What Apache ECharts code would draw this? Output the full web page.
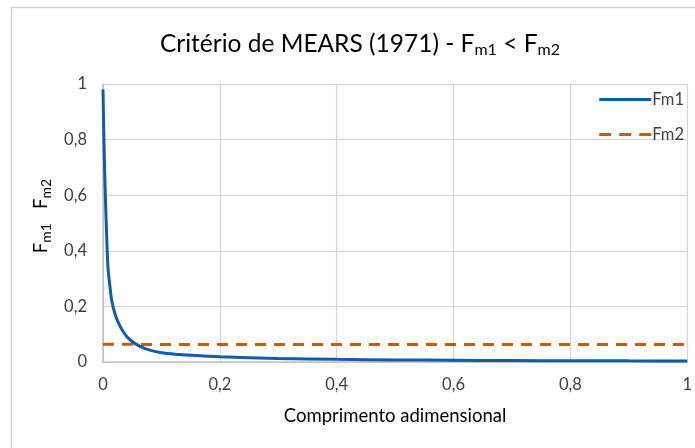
<!DOCTYPE html>
<html>
<head>
<meta charset="utf-8">
<script src="https://cdn.jsdelivr.net/npm/echarts@6/dist/echarts.min.js"></script>
<style>
  * { margin: 0; padding: 0; }
  body { background: #fff; }
</style>
</head>
<body>
<div id="chart" style="width: 695px;height: 448px;"></div>
<script>
  // valores
  const xFm1 = [0, 0.002, 0.004, 0.006, 0.0085, 0.012, 0.015, 0.021, 0.027, 0.035, 0.044, 0.055, 0.072, 0.1, 0.13, 0.16, 0.2, 0.3, 0.4, 0.5, 0.6, 0.7, 0.8, 0.9, 1]
  const fm1 = [0.98, 0.76, 0.60, 0.47, 0.34, 0.27, 0.22, 0.17, 0.138, 0.108, 0.084, 0.066, 0.048, 0.033, 0.027, 0.023, 0.019, 0.013, 0.0095, 0.0075, 0.0062, 0.0053, 0.0046, 0.0041, 0.0037]
  const xFm2 = [0, 0.1, 0.2, 0.3, 0.4, 0.5, 0.6, 0.7, 0.8, 0.9, 1]
  const fm2 = [0.064, 0.063, 0.063, 0.063, 0.063, 0.063, 0.063, 0.063, 0.063, 0.063, 0.063]
  const xTicks = ['0', '0,2', '0,4', '0,6', '0,8', '1']
  const yTicks = ['0', '0,2', '0,4', '0,6', '0,8', '1']

  const font = 'Lato, "Open Sans", sans-serif'

  let chart = echarts.init(document.getElementById('chart'))
  chart.setOption({
    backgroundColor: '#fff',
    animation: false,
    textStyle: {fontFamily: font},
    graphic: [{
      type: 'rect',
      shape: {x: 11.5, y: 7.5, width: 700, height: 460},
      style: {fill: 'none', stroke: '#d0d0d0', lineWidth: 1.5}
    }],
    title: {
      text: '{t|Critério de MEARS (1971) - F}{s|m1}{t| < F}{s|m2}',
      left: 155,
      top: 25,
      textStyle: {
        fontWeight: 'normal',
        rich: {
          t: {fontSize: 24.5, color: '#000', fontFamily: font, fontWeight: 'normal'},
          s: {fontSize: 16, color: '#000', fontFamily: font, fontWeight: 'normal', padding: [12, 0, 0, 0]}
        }
      }
    },
    legend: {
      orient: 'vertical',
      right: 6,
      top: 86,
      itemWidth: 52,
      itemHeight: 12,
      itemGap: 18,
      align: 'left',
      itemStyle: {opacity: 0},
      lineStyle: {width: 3},
      textStyle: {fontSize: 16.5, color: '#404040', padding: [0, 0, 0, -4]},
      data: [
        {name: 'Fm1'},
        {name: 'Fm2', lineStyle: {width: 3, type: [12, 8]}}
      ]
    },
    grid: {left: 103, right: 7, top: 84, bottom: 86},
    xAxis: {
      type: 'value',
      min: 0,
      max: 1,
      interval: 0.2,
      name: 'Comprimento adimensional',
      nameLocation: 'middle',
      nameGap: 45,
      nameTextStyle: {fontSize: 18.5, color: '#000'},
      axisLine: {lineStyle: {color: '#bfbfbf', width: 1.5}},
      axisTick: {show: false},
      axisLabel: {fontSize: 16.5, color: '#404040', margin: 14, formatter: v => xTicks[Math.round(v / 0.2)]},
      splitLine: {show: true, lineStyle: {color: '#d4d4d4', width: 1.2}}
    },
    yAxis: {
      type: 'value',
      min: 0,
      max: 1,
      interval: 0.2,
      name: '{t|F}{s|m1}{t|   F}{s|m2}',
      nameLocation: 'middle',
      nameGap: 50,
      nameRotate: 90,
      nameTextStyle: {
        padding: [0, 0, 0, 14],
        rich: {
          t: {fontSize: 18.5, color: '#000', fontFamily: font},
          s: {fontSize: 14, color: '#000', fontFamily: font, padding: [9, 0, 0, 0]}
        }
      },
      axisLine: {show: true, lineStyle: {color: '#bfbfbf', width: 1.5}},
      axisTick: {show: false},
      axisLabel: {fontSize: 16.5, color: '#404040', margin: 16, formatter: v => yTicks[Math.round(v / 0.2)]},
      splitLine: {show: true, lineStyle: {color: '#d4d4d4', width: 1.2}}
    },
    series: [
      {
        name: 'Fm1',
        type: 'line',
        smooth: 0.3,
        symbol: 'none',
        data: xFm1.map((x, i) => [x, fm1[i]]),
        lineStyle: {color: '#0e5cab', width: 3},
        itemStyle: {color: '#0e5cab'},
        z: 3
      },
      {
        name: 'Fm2',
        type: 'line',
        symbol: 'none',
        data: xFm2.map((x, i) => [x, fm2[i]]),
        lineStyle: {color: '#c55a11', width: 3, type: [11, 8]},
        itemStyle: {color: '#c55a11'},
        z: 2
      }
    ]
  })
</script>
</body>
</html>
